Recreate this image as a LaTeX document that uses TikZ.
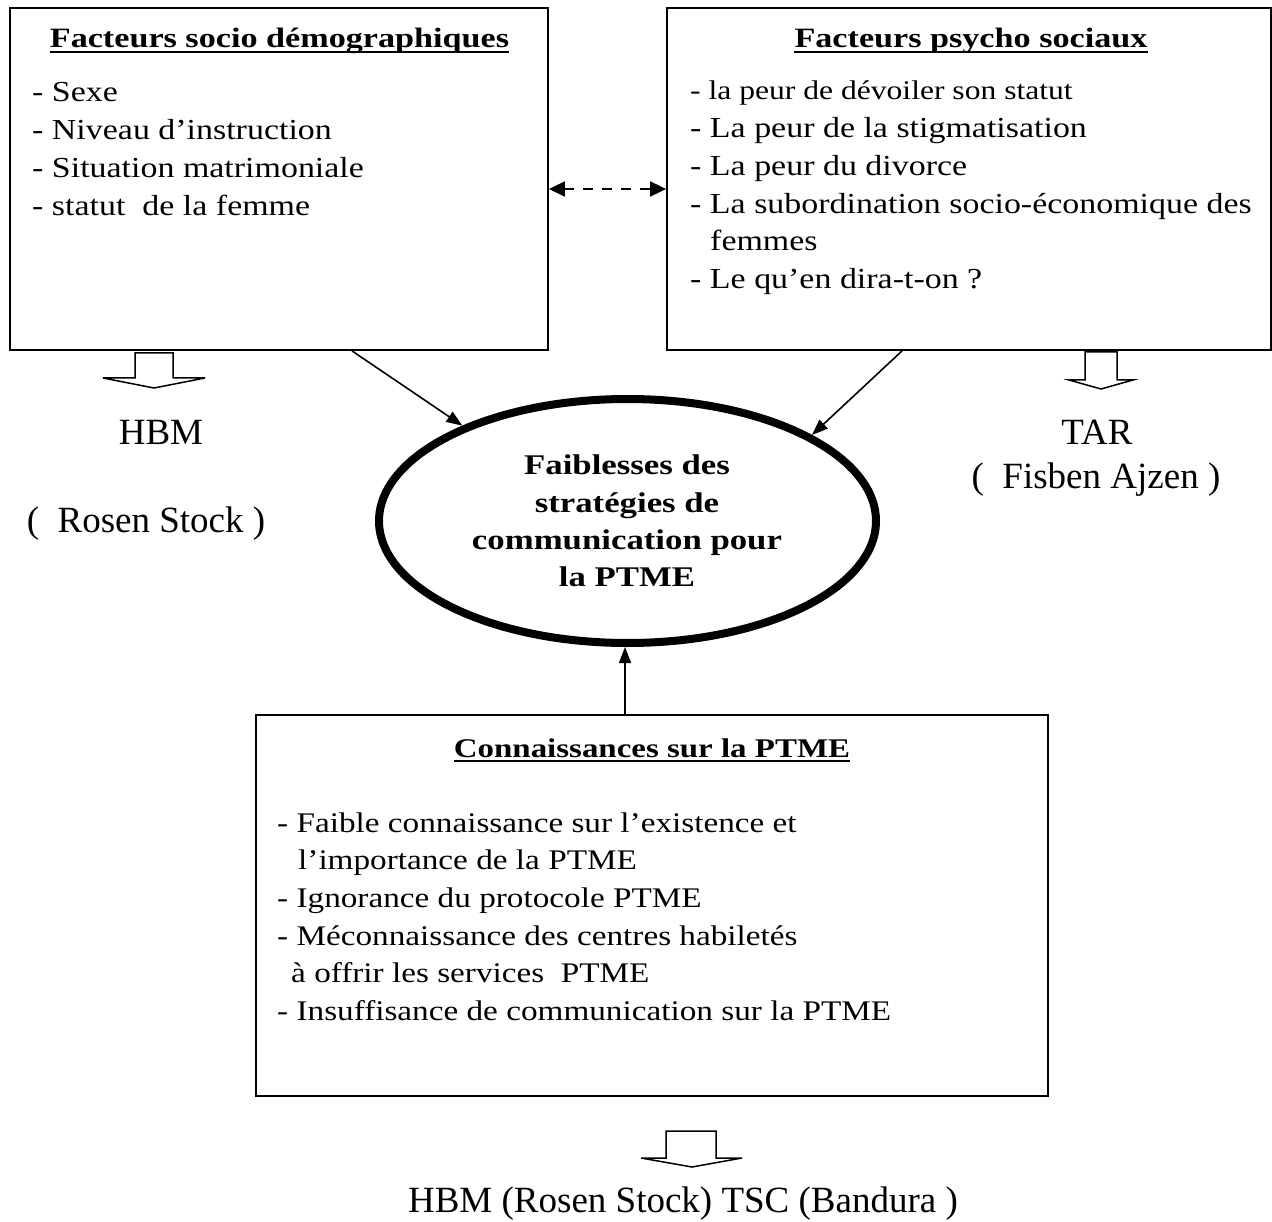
\documentclass[tikz,border=0pt]{standalone}
\usepackage{fontspec}
\setmainfont{Liberation Serif}
\newfontfamily\cf[FakeStretch=1.17]{Liberation Serif}
\newfontfamily\cfb[FakeStretch=1.22]{Liberation Serif}
\usetikzlibrary{arrows.meta,shapes.geometric}
\tikzset{
 box/.style={draw, line width=1.8pt, inner sep=0pt},
 item/.style={inner sep=0pt, anchor=base west, font=\cf\fontsize{29}{35}\selectfont},
 itemsm/.style={inner sep=0pt, anchor=base west, font=\cf\fontsize{27}{33}\selectfont},
 itemc/.style={inner sep=0pt, anchor=base west, font=\cf\fontsize{28.4}{34}\selectfont},
 ttl/.style={inner sep=0pt, anchor=base, font=\cfb\bfseries\fontsize{28}{34}\selectfont},
 etxt/.style={inner sep=0pt, anchor=base, font=\cfb\bfseries\fontsize{28.5}{34}\selectfont},
 lbl/.style={inner sep=0pt, anchor=base, font=\fontsize{37}{44}\selectfont},
 conn/.style={line width=1.6pt, -{Triangle[length=16pt,width=12pt]}},
 dasharrow/.style={line width=1.8pt, dash pattern=on 10pt off 9pt, {Triangle[length=16pt,width=15pt]}-{Triangle[length=16pt,width=15pt]}},
 barrow/.style={draw, line width=1.5pt, fill=white, line join=miter},
 uline/.style={line width=1.6pt},
 oval/.style={draw, ellipse, line width=8pt, inner sep=0pt},
}
\begin{document}
\begin{tikzpicture}[x=1pt,y=-1pt]
\useasboundingbox (0,0) rectangle (1272,1222);
% boxes
\node[box, minimum width=538pt, minimum height=342pt] (b1) at (279,179) {};
\node[box, minimum width=604pt, minimum height=342pt] (b2) at (969,179) {};
\node[box, minimum width=792pt, minimum height=381pt] (b3) at (652,905.5) {};
\node[oval, minimum width=497pt, minimum height=244pt] (el) at (627.5,521) {};

% box 1
\node[ttl] (t1) at (279.5,48) {Facteurs socio démographiques};
\draw[uline] ([yshift=-4pt]t1.base west) -- ([yshift=-4pt]t1.base east);
\node[item] (s1) at (32,102) {- Sexe};
\node[item] (s2) at (32,139.7) {- Niveau d’instruction};
\node[item] (s3) at (32,177.4) {- Situation matrimoniale};
\node[item] (s4) at (32,215.1) {- statut\ \ de la femme};

% box 2
\node[ttl] (t2) at (971,48) {Facteurs psycho sociaux};
\draw[uline] ([yshift=-4pt]t2.base west) -- ([yshift=-4pt]t2.base east);
\node[itemsm] (p1) at (690,100) {- la peur de dévoiler son statut};
\node[item] (p2) at (690,137.7) {- La peur de la stigmatisation};
\node[item] (p3) at (690,175.4) {- La peur du divorce};
\node[item] (p4) at (690,213.1) {- La subordination socio-économique des};
\node[item] (p5) at (710,250.8) {femmes};
\node[item] (p6) at (690,288.5) {- Le qu’en dira-t-on ?};

% box 3
\node[ttl, font=\cfb\bfseries\fontsize{27}{33}\selectfont] (t3) at (652,757) {Connaissances sur la PTME};
\draw[uline] ([yshift=-4pt]t3.base west) -- ([yshift=-4pt]t3.base east);
\node[itemc] (k1) at (277,832) {- Faible connaissance sur l’existence et};
\node[itemc] (k2) at (298,869.7) {l’importance de la PTME};
\node[itemc] (k3) at (277,907.4) {- Ignorance du protocole PTME};
\node[itemc] (k4) at (277,945.1) {- Méconnaissance des centres habiletés};
\node[itemc] (k5) at (291,982.8) {à offrir les services\ \ PTME};
\node[itemc] (k6) at (277,1020.5) {- Insuffisance de communication sur la PTME};

% ellipse text
\node[etxt] (e1) at (627,475) {Faiblesses des};
\node[etxt] (e2) at (627,512) {stratégies de};
\node[etxt] (e3) at (627,549) {communication pour};
\node[etxt] (e4) at (627,586) {la PTME};

% labels
\node[lbl] (h1) at (161,445) {HBM};
\node[lbl] (r1) at (146,532) {(\ \ Rosen Stock )};
\node[lbl] (h2) at (1097,445) {TAR};
\node[lbl] (r2) at (1096,488) {(\ \ Fisben Ajzen )};
\node[lbl] (h3) at (683,1212) {HBM (Rosen Stock) TSC (Bandura )};

% block arrows
\draw[barrow] (135,353) -- (173,353) -- (173,378) -- (205,378) -- (154,388) -- (103,378) -- (135,378) -- cycle;
\draw[barrow] (1085,352) -- (1117,352) -- (1117,380) -- (1133,380) -- (1101,389) -- (1069,380) -- (1085,380) -- cycle;
\draw[barrow] (666,1131) -- (716,1131) -- (716,1158) -- (742,1158) -- (692,1167) -- (641,1158) -- (666,1158) -- cycle;

% connectors
\draw[dasharrow] ([yshift=-10pt]b1.east) -- ([yshift=-10pt]b2.west);
\draw[conn] ([xshift=73pt]b1.south) -- (el.150);
\draw[conn] ([xshift=-67pt]b2.south) -- (el.25);
\draw[conn] ([xshift=-27pt]b3.north) -- ([xshift=-2.5pt]el.south);
\end{tikzpicture}
\end{document}
